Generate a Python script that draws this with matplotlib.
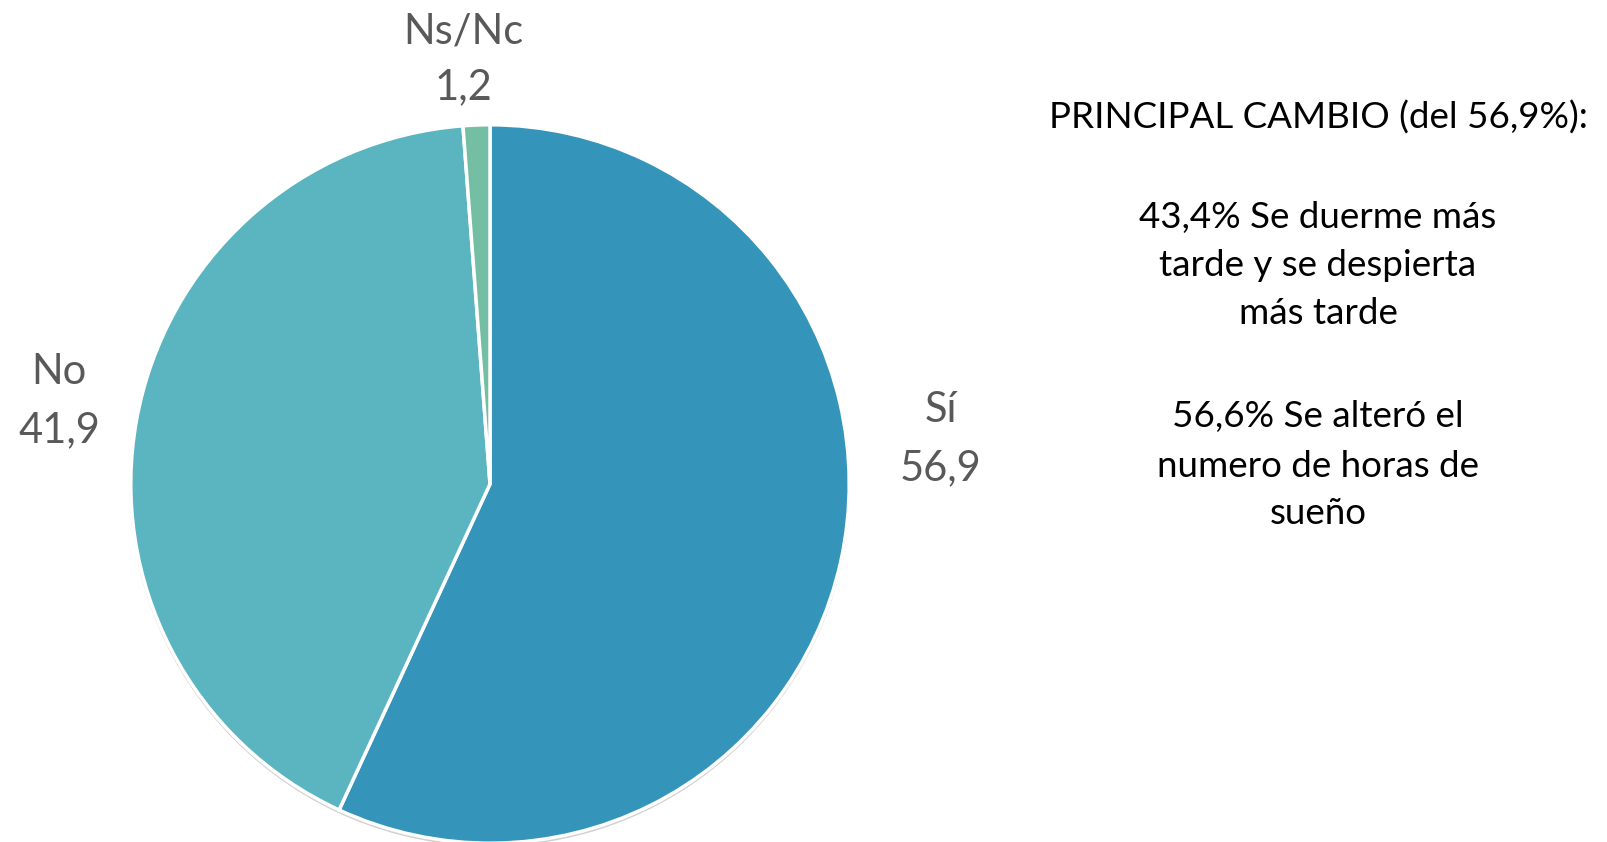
import matplotlib
matplotlib.use("Agg")
import matplotlib.pyplot as plt
from matplotlib.patches import Circle

# datos
categorias = ["Sí", "No", "Ns/Nc"]
valores = [56.9, 41.9, 1.2]
colores = ["#3594BA", "#5AB5C0", "#74BFA4"]

titulo_cambio = "PRINCIPAL CAMBIO (del 56,9%):"
bloque_1 = ["43,4% Se duerme más", "tarde y se despierta", "más tarde"]
bloque_2 = ["56,6% Se alteró el", "numero de horas de", "sueño"]

plt.rcParams['font.family'] = ['Lato', 'DejaVu Sans']

W, H = 1607, 842
fig = plt.figure(figsize=(W / 100, H / 100), dpi=100)

def px(x, y):
    return x / W, 1 - y / H

# ejes del pastel: centro (490, 484), radio 361 px
cx, cy, r = 490, 484, 361
ax = fig.add_axes([(cx - r) / W, (H - cy - r) / H, 2 * r / W, 2 * r / H])
ax.set_aspect('equal')
ax.axis('off')

# sombra suave
ax.add_patch(Circle((0, -0.006), 0.998, facecolor="#d0d0d0", edgecolor="none", zorder=0))
ax.pie(valores, colors=colores, startangle=90, counterclock=False, radius=0.995,
       wedgeprops=dict(edgecolor="white", linewidth=2.5, zorder=1))
ax.set_xlim(-1.0, 1.0)
ax.set_ylim(-1.0, 1.0)

# etiquetas
pos_etiquetas = [(941, 410, 468), (59, 372, 430), (463, 31, 87)]
for cat, val, (x, y1, y2) in zip(categorias, valores, pos_etiquetas):
    fig.text(*px(x, y1), cat, ha="center", va="center", fontsize=30, color="#595959")
    fig.text(*px(x, y2), f"{val:.1f}".replace(".", ","), ha="center", va="center",
             fontsize=30, color="#595959")

# texto derecho
tx = 1318
fig.text(*px(tx, 118), titulo_cambio, ha="center", va="center", fontsize=26.5, color="black")
for linea, y in zip(bloque_1, [217, 266, 314]):
    fig.text(*px(tx, y), linea, ha="center", va="center", fontsize=26.5, color="black")
for linea, y in zip(bloque_2, [417, 467, 514]):
    fig.text(*px(tx, y), linea, ha="center", va="center", fontsize=26.5, color="black")

fig.savefig("out.png", dpi=100, facecolor="white")
